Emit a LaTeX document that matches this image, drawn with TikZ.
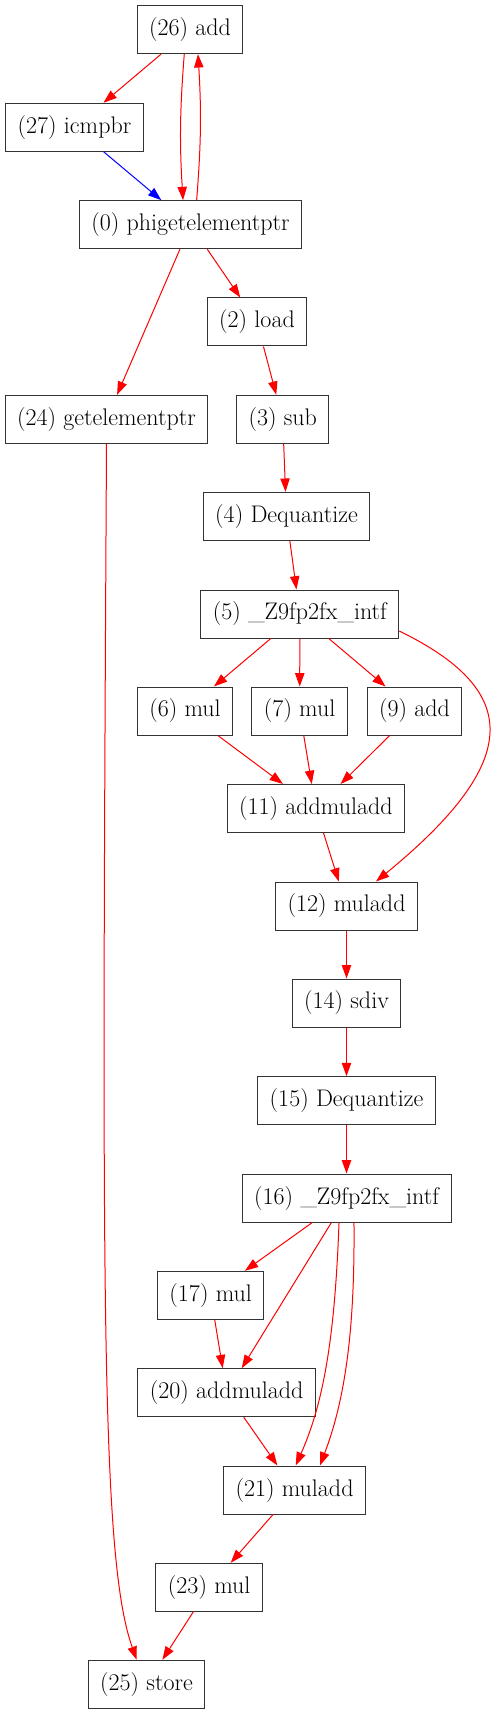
\documentclass[tikz,border=0pt]{standalone}
\usepackage{tikz}
\usetikzlibrary{arrows.meta}
\tikzset{
op/.style={
  rectangle,
  draw=black!80,
  line width=0.75pt,
  minimum height=36pt,
  inner xsep=9pt,
  inner ysep=0pt,
  font=\fontsize{18}{22}\selectfont
},
dep/.style={draw=red, line width=0.75pt, -{Triangle[length=10pt,width=7pt]}},
ctl/.style={dep, draw=blue},
}

\begin{document}
\begin{tikzpicture}[x=0.75pt,y=-0.75pt]
\useasboundingbox (0,0) rectangle (490,1715);
% the operations
\node[op] (n26) at (190,29.7)    {(26) add};
\node[op] (n27) at (74.5,127.3)  {(27) icmpbr};
\node[op] (n0)  at (190.5,224.7) {(0) phigetelementptr};
\node[op] (n2)  at (257,322)     {(2) load};
\node[op] (n24) at (106.5,419.3) {(24) getelementptr};
\node[op] (n3)  at (282.7,419.3) {(3) sub};
\node[op] (n4)  at (286.5,516.3) {(4) Dequantize};
\node[op] (n5)  at (299.8,614)   {(5) \_Z9fp2fx\_intf};
\node[op] (n6)  at (185,711)     {(6) mul};
\node[op] (n7)  at (299.7,711)   {(7) mul};
\node[op] (n9)  at (414.5,711)   {(9) add};
\node[op] (n11) at (315.8,808.5) {(11) addmuladd};
\node[op] (n12) at (346.5,906)   {(12) muladd};
\node[op] (n14) at (346.5,1003)  {(14) sdiv};
\node[op] (n15) at (346.5,1100.7){(15) Dequantize};
\node[op] (n16) at (346.5,1198)  {(16) \_Z9fp2fx\_intf};
\node[op] (n17) at (210.7,1295.3){(17) mul};
\node[op] (n20) at (226.7,1392.7){(20) addmuladd};
\node[op] (n21) at (294.5,1490)  {(21) muladd};
\node[op] (n23) at (209.2,1587.3){(23) mul};
\node[op] (n25) at (146.5,1684.3){(25) store};
% the dependences
\draw[dep] (n26) -- (n27);
\draw[ctl] (n27) -- (n0);
\draw[dep] ([xshift=-4.3pt]n26.south) to[bend right=4] ([xshift=-5.6pt]n0.north);
\draw[dep] ([xshift=4.6pt]n0.north) to[bend right=4] ([xshift=6pt]n26.south);
\draw[dep] (n0) -- (n24);
\draw[dep] (n0) -- (n2);
\draw[dep] (n2) -- (n3);
\draw[dep] (n3) -- (n4);
\draw[dep] (n4) -- (n5);
\draw[dep] (n5) -- (n6);
\draw[dep] (n5) -- (n7);
\draw[dep] (n5) -- (n9);
\draw[dep] (n6) -- (n11);
\draw[dep] (n7) -- (n11);
\draw[dep] (n9) -- (n11);
\draw[dep] (n11) -- (n12);
\draw[dep] ([yshift=-12.75pt]n5.east) .. controls +(120.7,59) and +(149,-122) .. ([xshift=22.1pt]n12.north);
\draw[dep] (n12) -- (n14);
\draw[dep] (n14) -- (n15);
\draw[dep] (n15) -- (n16);
\draw[dep] (n16) -- (n17);
\draw[dep] (n16) -- (n20);
\draw[dep] ([xshift=-5.6pt]n16.south) .. controls +(-4,108) and +(29.3,-65.7) .. ([xshift=0.9pt]n21.north);
\draw[dep] ([xshift=5.6pt]n16.south) .. controls +(1,108) and +(25,-65.7) .. ([xshift=19.1pt]n21.north);
\draw[dep] (n17) -- (n20);
\draw[dep] (n20) -- (n21);
\draw[dep] (n21) -- (n23);
\draw[dep] (n23) -- (n25);
\draw[dep] (n24.south) .. controls +(-4.7,857) and +(-35.7,-100.3) .. ([xshift=-7.35pt]n25.north);
\end{tikzpicture}
\end{document}
